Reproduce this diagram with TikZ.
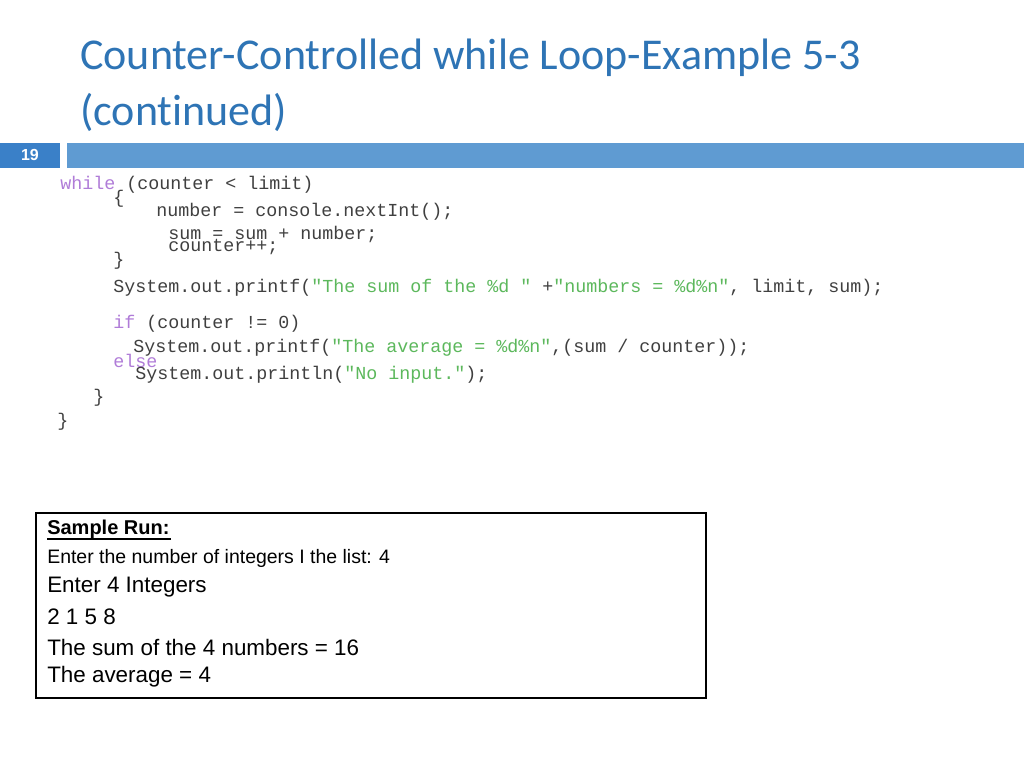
\documentclass[tikz,border=0pt]{standalone}
\usepackage{fontspec}
\setmainfont[Ligatures=NoCommon]{Carlito}
\newfontfamily\codefont{Liberation Mono}
\newfontfamily\arialf{Liberation Sans}
\definecolor{titleblue}{HTML}{2E74B5}
\definecolor{numblue}{HTML}{3A80C8}
\definecolor{barblue}{HTML}{5F9BD2}
\definecolor{kw}{HTML}{B07CD8}
\definecolor{str}{HTML}{5CB85C}
\definecolor{codegray}{HTML}{404040}
\begin{document}
\begin{tikzpicture}[x=0.75pt,y=-0.75pt,
  code/.style={anchor=west,inner sep=0,font=\codefont\fontsize{13.75}{14}\selectfont,text=codegray},
  run/.style={anchor=west,inner sep=0,font=\arialf\fontsize{16.8}{18}\selectfont},
  runsm/.style={anchor=west,inner sep=0,font=\arialf\fontsize{14.6}{16}\selectfont}]
\useasboundingbox (0,0) rectangle (1024,768);
\fill[white] (0,0) rectangle (1024,768);
\node[anchor=west,inner sep=0,text=titleblue,font=\fontsize{33}{38}\selectfont] (t1) at (80,58) {Counter-Controlled while Loop-Example 5-3};
\node[anchor=west,inner sep=0,text=titleblue,font=\fontsize{33}{38}\selectfont] (t2) at (80,112) {(continued)};
\fill[numblue] (0,143) rectangle (60,168);
\node[text=white,font=\arialf\bfseries\fontsize{12}{14}\selectfont] (num) at (30,155) {19};
\fill[barblue] (67,143) rectangle (1024,168);
\node[code] (c1) at (60,185) {\textcolor{kw}{while} (counter < limit)};
\node[code] (c2) at (113,199) {\{};
\node[code] (c3) at (156,212) {number = console.nextInt();};
\node[code] (c4) at (168,234) {sum = sum + number;};
\node[code] (c5) at (168,247) {counter++;};
\node[code] (c6) at (113,261) {\}};
\node[code] (c7) at (113,288) {System.out.printf(\textcolor{str}{"The sum of the \%d "} +\textcolor{str}{"numbers = \%d\%n"}, limit, sum);};
\node[code] (c8) at (113,324) {\textcolor{kw}{if} (counter != 0)};
\node[code] (c9) at (133,348) {System.out.printf(\textcolor{str}{"The average = \%d\%n"},(sum / counter));};
\node[code] (c10) at (113,361) {\textcolor{kw}{else}};
\node[code] (c11) at (135,375) {System.out.println(\textcolor{str}{"No input."});};
\node[code] (c12) at (93,398) {\}};
\node[code] (c13) at (57,422) {\}};
\draw[line width=0.9pt] (36,513) rectangle (706,698);
\node[run,font=\arialf\bfseries\fontsize{15}{16}\selectfont] (r1) at (47,529) {Sample Run:};
\draw[line width=0.8pt] (47,539) -- (171,539);
\node[runsm] (r2) at (47,558) {Enter the number of integers I the list: 4};
\node[run] (r3) at (47,587) {Enter 4 Integers};
\node[run] (r4) at (47,617) {2 1 5 8};
\node[run] (r5) at (47,647) {The sum of the 4 numbers = 16};
\node[run] (r6) at (47,677) {The average = 4};
\end{tikzpicture}
\end{document}
